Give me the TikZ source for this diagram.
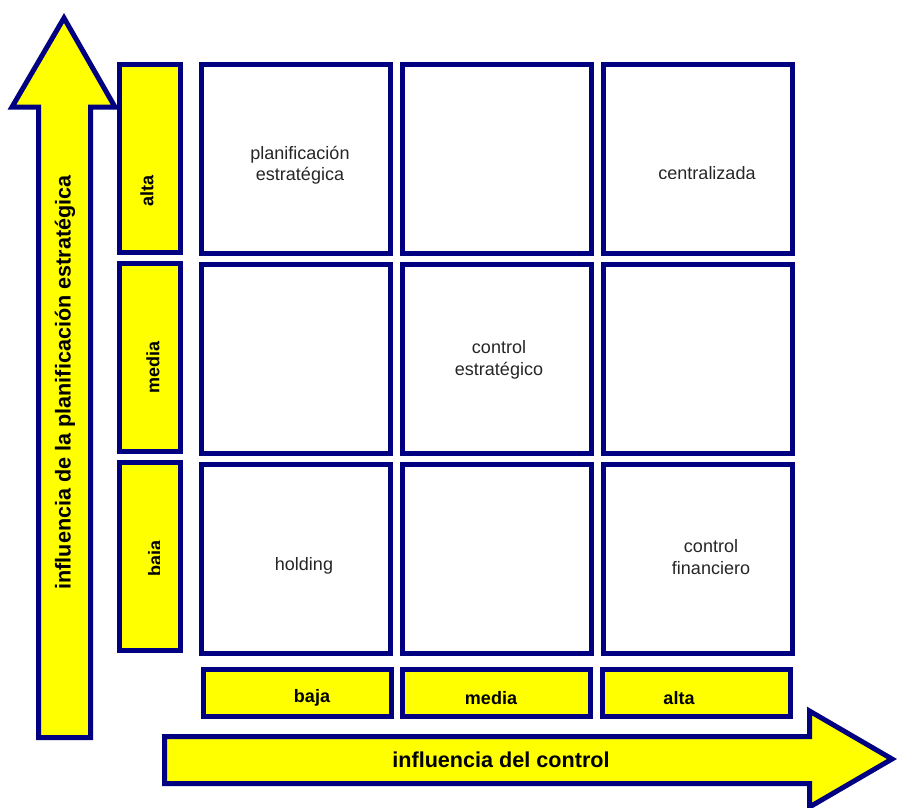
\documentclass[tikz,border=0pt]{standalone}
\usepackage{fontspec}
\setmainfont{Liberation Sans}
\definecolor{marino}{RGB}{0,0,128}
\definecolor{amarillo}{RGB}{255,255,0}
\begin{document}
\begin{tikzpicture}[x=1pt,y=-1pt,
	cell/.style={draw=marino,line width=5pt,fill=white,minimum width=189pt,minimum height=189pt,inner sep=0pt},
	tagv/.style={draw=marino,line width=5pt,fill=amarillo,minimum width=61pt,minimum height=188pt,inner sep=0pt},
	tagh/.style={draw=marino,line width=5pt,fill=amarillo,minimum width=188pt,minimum height=47pt,inner sep=0pt},
	txt/.style={font=\fontsize{18}{21.5}\selectfont,text=black!85,align=center,inner sep=0pt},
	btxt/.style={font=\fontsize{18}{21.5}\selectfont\bfseries,inner sep=0pt},
	axtxt/.style={font=\fontsize{21.6}{26}\selectfont\bfseries,inner sep=0pt},
	flecha/.style={draw=marino,line width=5pt,fill=amarillo,line join=miter}]
	\useasboundingbox (0,0) rectangle (897,807);
	% flechas
	\draw [flecha] (38.5,737.5) -- (38.5,107) -- (12,107) -- (64,18) -- (115,107) -- (90.5,107) -- (90.5,737.5) -- cycle;
	\node [axtxt,rotate=90] (ejev) at (65,382.5) {influencia de la planificaci\'on estrat\'egica};
	\draw [flecha] (164.5,736.5) -- (809.5,736.5) -- (809.5,711) -- (892,759) -- (809.5,807) -- (809.5,783.5) -- (164.5,783.5) -- cycle;
	\node [axtxt] (ejeh) at (501,760) {influencia del control};
	% etiquetas
	\node [tagv] (lalta) at (150,158.5) {};
	\node [btxt,rotate=90] (laltatxt) at (147,191) {alta};
	\node [tagv] (lmedia) at (150,357.5) {};
	\node [btxt,rotate=90] (lmediatxt) at (153,367) {media};
	\node [tagv] (lbaja) at (150,556) {};
	\begin{scope}
		\clip (100,400) rectangle (159.5,700);
		\node [btxt,rotate=90,anchor=base] (lbajatxt) at (161,558) {baja};
	\end{scope}
	\node [tagh] (bbaja) at (297,693) {};
	\node [btxt] (bbajatxt) at (312,698) {baja};
	\node [tagh] (bmedia) at (496.5,693) {};
	\node [btxt] (bmediatxt) at (491,698) {media};
	\node [tagh] (balta) at (696.5,693) {};
	\node [btxt] (baltatxt) at (679,698) {alta};
	% matriz
	\node [cell] (c11) at (296,159) {};
	\node [cell] (c12) at (497,159) {};
	\node [cell] (c13) at (697.5,159) {};
	\node [cell] (c21) at (296,359) {};
	\node [cell] (c22) at (497,359) {};
	\node [cell] (c23) at (697.5,359) {};
	\node [cell] (c31) at (296,558.5) {};
	\node [cell] (c32) at (497,558.5) {};
	\node [cell] (c33) at (697.5,558.5) {};
	\node [txt] (plan) at (300,165) {planificaci\'on\\estrat\'egica};
	\begin{scope}
		\clip (610,100) rectangle (790,178.3);
		\node [txt,anchor=base] (central) at (707,179) {centralizada};
	\end{scope}
	\node [txt] (cestr) at (499,360) {control\\estrat\'egico};
	\node [txt] (hold) at (304,566) {holding};
	\node [txt] (cfin) at (711,557) {control\\financiero};
\end{tikzpicture}
\end{document}
